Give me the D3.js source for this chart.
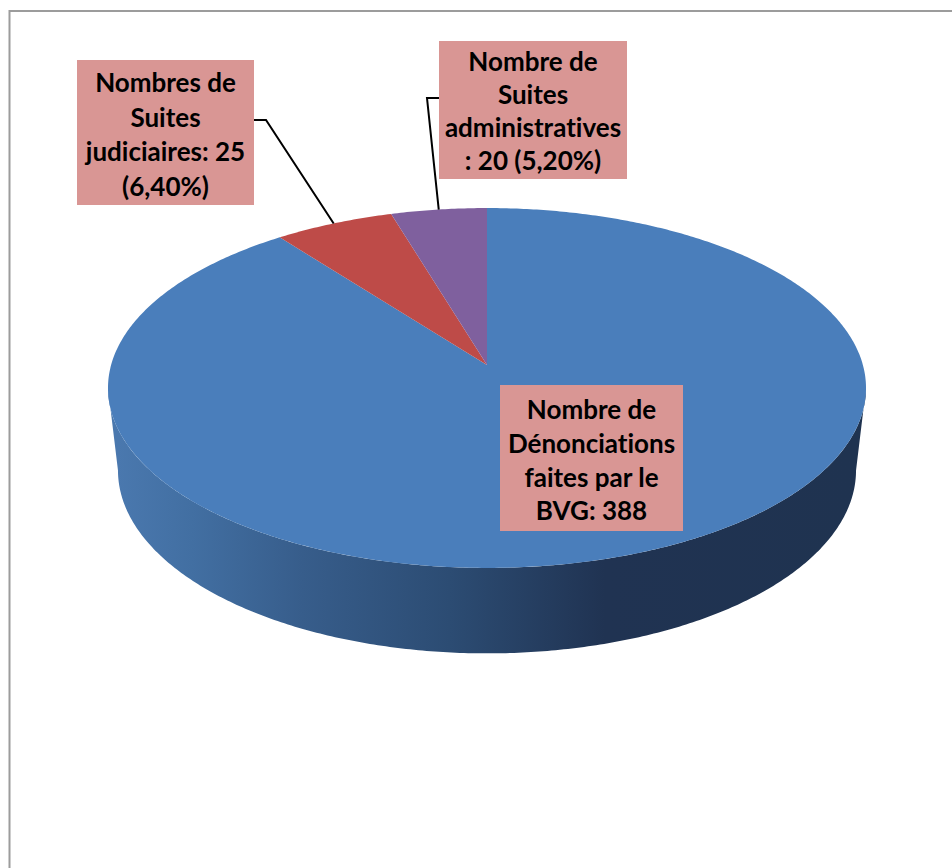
<!DOCTYPE html>
<html>
<head>
<meta charset="utf-8">
<script src="https://cdn.jsdelivr.net/npm/d3@7"></script>
<style>
    html, body { margin: 0; padding: 0; background: #fff; }
    svg { display: block; }
    text { font-family: Lato, "Open Sans", sans-serif; font-weight: 700; fill: #000; font-variant-ligatures: none; }
</style>
</head>
<body>
<div id="chart"></div>
<script>
// Values
const categories = ["Dénonciations", "Suites judiciaires", "Suites administratives"];
const values = [388, 25, 20];
const sliceColors = ["#4a7ebb", "#be4b48", "#7f609e"];
const labelLines = [
    ["Nombre de", "Dénonciations", "faites par le", "BVG: 388"],
    ["Nombres de", "Suites", "judiciaires: 25", "(6,40%)"],
    ["Nombre de", "Suites", "administratives", ": 20 (5,20%)"]
];

// Label boxes, same order as categories
const labelBoxes = [
    {x: 500, y: 385, w: 183, h: 146, first: 410, step: 33.7},
    {x: 77, y: 60, w: 177, h: 145, first: 83, step: 34.5},
    {x: 439, y: 41, w: 188, h: 138, first: 62, step: 33}
];
// Elbow of the leader lines, null = no leader
const leaderElbows = [null, {side: 254, x: 266, y: 120}, {side: 439, x: 427, y: 98}];

const width = 952;
const height = 868;

// Perspective of the tilted disc (Excel 3D pie look)
const tilt = 0.1278;
const topFace = {cx: 487, cy: 365, rx: 375.9, ryScale: 177};
const bottomFace = {cx: 487, cy: 447, rx: 366, ryScale: 180};

function project(face, angle) {
    const X = Math.sin(angle);
    const Y = Math.cos(angle);
    const w = 1 + tilt * Y;
    return [face.cx + face.rx * X / w, face.cy - face.ryScale * Y / w];
}

function rim(face, a0, a1) {
    const n = Math.max(2, Math.ceil(Math.abs(a1 - a0) / 0.01));
    return d3.range(n + 1).map(i => project(face, a0 + (a1 - a0) * i / n));
}

const svg = d3.select("#chart").append("svg")
    .attr("width", width)
    .attr("height", height);

// Chart frame, only top and left show in the picture
svg.append("path")
    .attr("d", `M9.5,${height}V11H${width}`)
    .attr("fill", "none")
    .attr("stroke", "#9c9c9c")
    .attr("stroke-width", 2);

// Side gradient
const grad = svg.append("defs").append("linearGradient")
    .attr("id", "sideGrad")
    .attr("gradientUnits", "userSpaceOnUse")
    .attr("x1", 118).attr("x2", 855).attr("y1", 0).attr("y2", 0);
[[0, "#4a78ae"], [0.1, "#426fa2"], [0.25, "#375d8b"], [0.45, "#2c4c73"], [0.66, "#203352"], [1, "#1f3350"]]
    .forEach(s => grad.append("stop").attr("offset", s[0]).attr("stop-color", s[1]));

const line = d3.line();

// Side wall, between the two widest points of the disc
const sideStart = Math.acos(-tilt);
const sideEnd = 2 * Math.PI - sideStart;
svg.append("path")
    .attr("d", line(rim(topFace, sideStart, sideEnd).concat(rim(bottomFace, sideEnd, sideStart))) + "Z")
    .attr("fill", "url(#sideGrad)");

// Slices run clockwise from 12 o'clock, the big one first
const pie = d3.pie().sort(null).value(d => d);
const arcs = pie(values);

svg.selectAll("path.slice")
    .data(arcs)
    .enter()
    .append("path")
    .attr("class", "slice")
    .attr("fill", (d, i) => sliceColors[i])
    .attr("d", d => line([[topFace.cx, topFace.cy]].concat(rim(topFace, d.startAngle, d.endAngle))) + "Z");

// Leader lines end on the rim at the middle of the slice
arcs.forEach((d, i) => {
    const elbow = leaderElbows[i];
    if (!elbow) return;
    const end = project(topFace, (d.startAngle + d.endAngle) / 2);
    svg.append("path")
        .attr("d", line([[elbow.side, elbow.y], [elbow.x, elbow.y], end]))
        .attr("fill", "none")
        .attr("stroke", "#000")
        .attr("stroke-width", 2);
});

// Label boxes
labelBoxes.forEach((b, i) => {
    svg.append("rect")
        .attr("x", b.x).attr("y", b.y)
        .attr("width", b.w).attr("height", b.h)
        .attr("fill", "#d99694");
    svg.selectAll(null)
        .data(labelLines[i])
        .enter()
        .append("text")
        .attr("x", b.x + b.w / 2)
        .attr("y", (d, j) => b.first + j * b.step)
        .attr("dy", "0.35em")
        .attr("text-anchor", "middle")
        .style("font-size", "26px")
        .text(d => d);
});
</script>
</body>
</html>
